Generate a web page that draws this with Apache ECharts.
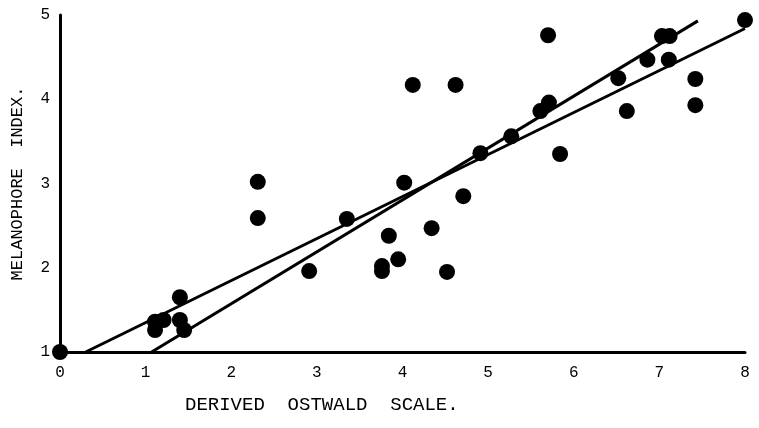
<!DOCTYPE html>
<html>
<head>
<meta charset="utf-8">
<script src="https://cdn.jsdelivr.net/npm/echarts@6/dist/echarts.min.js"></script>
<style>
  html, body { margin: 0; padding: 0; background: #fff; }
  #chart { width: 759px; height: 428px; }
</style>
</head>
<body>
<div id="chart"></div>
<script>
// Derived Ostwald scale (x) against melanophore index (y)
const ostwald = [0, 1.11, 1.21, 1.11, 1.40, 1.40, 1.45, 2.31, 2.31, 2.91, 3.35, 3.84, 3.76, 3.76, 3.95,
  4.02, 4.12, 4.34, 4.52, 4.62, 4.71, 4.91, 5.27, 5.70, 5.61, 5.71, 5.84, 6.52, 6.62, 6.86, 7.03,
  7.12, 7.11, 7.42, 7.42, 8.0];
const melanophore = [1.0, 1.36, 1.38, 1.26, 1.65, 1.38, 1.26, 3.02, 2.59, 1.96, 2.58, 2.38, 2.02, 1.96, 2.10,
  3.01, 4.17, 2.47, 1.95, 4.17, 2.85, 3.36, 3.56, 4.76, 3.86, 3.96, 3.35, 4.25, 3.86, 4.47, 4.75,
  4.75, 4.47, 4.24, 3.93, 4.94];

// Two fitted lines, each given by its end points
const fitA = [[0.3, 1.0], [8.0, 4.84]];
const fitB = [[1.07, 1.0], [7.45, 4.93]];

const xTicks = ['0', '1', '2', '3', '4', '5', '6', '7', '8'];
const yTicks = ['1', '2', '3', '4', '5'];

const font = '"Liberation Mono", "DejaVu Sans Mono", monospace';
const ink = '#000';

const points = ostwald.map((x, i) => [x, melanophore[i]]);

const chart = echarts.init(document.getElementById('chart'), null, { renderer: 'canvas' });
chart.setOption({
  backgroundColor: '#ffffff',
  animation: false,
  grid: { left: 60, right: 14, top: 15, bottom: 76, outerBoundsMode: 'none', containLabel: false },
  xAxis: {
    type: 'value', min: 0, max: 8, interval: 1,
    axisLine: { show: true, onZero: false, lineStyle: { color: ink, width: 3 } },
    axisTick: { show: false },
    splitLine: { show: false },
    axisLabel: {
      color: ink, fontFamily: font, fontSize: 16, margin: 13,
      formatter: v => xTicks[Math.round(v)]
    }
  },
  yAxis: {
    type: 'value', min: 1, max: 5, interval: 1,
    name: 'MELANOPHORE  INDEX.',
    nameLocation: 'middle', nameGap: 34, nameRotate: 90,
    nameTextStyle: { color: ink, fontFamily: font, fontSize: 17 },
    axisLine: { show: true, onZero: false, lineStyle: { color: ink, width: 3 } },
    axisTick: { show: false },
    splitLine: { show: false },
    axisLabel: {
      color: ink, fontFamily: font, fontSize: 16, margin: 10,
      formatter: v => yTicks[Math.round(v) - 1]
    }
  },
  graphic: [{
    type: 'text', left: 185, top: 395,
    style: { text: 'DERIVED  OSTWALD  SCALE.', fill: ink, font: '19px ' + font }
  }],
  series: [
    {
      type: 'line', data: fitA, symbol: 'none', silent: true,
      lineStyle: { color: ink, width: 3 }
    },
    {
      type: 'line', data: fitB, symbol: 'none', silent: true,
      lineStyle: { color: ink, width: 3 }
    },
    {
      type: 'scatter', data: points, symbol: 'circle', symbolSize: 16,
      itemStyle: { color: '#000', opacity: 1 }
    }
  ]
});
</script>
</body>
</html>
